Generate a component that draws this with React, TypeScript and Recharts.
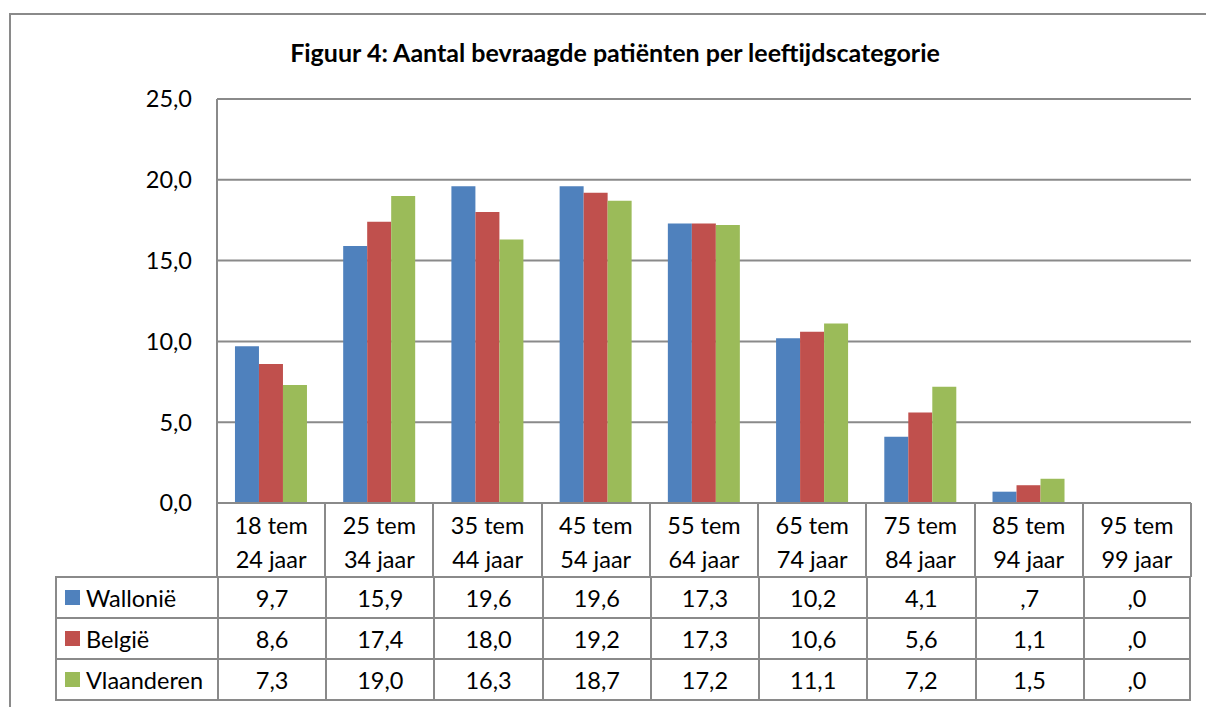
import React from "react";
import { BarChart, Bar, XAxis, YAxis, CartesianGrid } from "recharts";

const categories: string[][] = [
  ["18 tem", "24 jaar"],
  ["25 tem", "34 jaar"],
  ["35 tem", "44 jaar"],
  ["45 tem", "54 jaar"],
  ["55 tem", "64 jaar"],
  ["65 tem", "74 jaar"],
  ["75 tem", "84 jaar"],
  ["85 tem", "94 jaar"],
  ["95 tem", "99 jaar"],
];

const wallonie = [9.7, 15.9, 19.6, 19.6, 17.3, 10.2, 4.1, 0.7, 0.0];
const belgie = [8.6, 17.4, 18.0, 19.2, 17.3, 10.6, 5.6, 1.1, 0.0];
const vlaanderen = [7.3, 19.0, 16.3, 18.7, 17.2, 11.1, 7.2, 1.5, 0.0];

const yTicks = [0, 5, 10, 15, 20, 25];

const series = [
  { key: "wallonie", name: "Wallonië", color: "#4F81BD", values: wallonie },
  { key: "belgie", name: "België", color: "#C0504D", values: belgie },
  { key: "vlaanderen", name: "Vlaanderen", color: "#9BBB59", values: vlaanderen },
];

const data = categories.map((c, i) => ({
  cat: c.join(" "),
  wallonie: wallonie[i],
  belgie: belgie[i],
  vlaanderen: vlaanderen[i],
}));

const FONT = "Lato, 'Open Sans', sans-serif";
const FS = 23.5;
const GRID = "#8a8a8a";

const fmtAxis = (v: number) => v.toFixed(1).replace(".", ",");
const fmtCell = (v: number) => {
  const s = v.toFixed(1).replace(".", ",");
  return s.startsWith("0,") ? s.slice(1) : s;
};

// layout
const PLOT_LEFT = 217;
const PLOT_RIGHT = 1191;
const PLOT_TOP = 99;
const PLOT_BOTTOM = 503;
const TABLE_LEFT = 55;
const HEAD_H = 74;
const ROW_H = 41;

const CatTick = (props: any) => {
  const { x, y, payload, index } = props;
  const lines = categories[index] || [payload.value];
  return (
    <g>
      {lines.map((l: string, i: number) => (
        <text
          key={i}
          x={x}
          y={y + 29 + i * 34}
          textAnchor="middle"
          fontSize={FS}
          fontFamily={FONT}
          fill="#000"
        >
          {l}
        </text>
      ))}
    </g>
  );
};

const App: React.FC = () => {
  const colW = (PLOT_RIGHT - PLOT_LEFT) / categories.length;
  const border = `2px solid ${GRID}`;
  return (
    <div
      style={{
        position: "absolute",
        left: 0,
        top: 0,
        width: 1206,
        height: 707,
        overflow: "hidden",
        background: "#fff",
        fontFamily: FONT,
      }}
    >
      <div
        style={{
          position: "absolute",
          left: 9,
          top: 13,
          width: 1230,
          height: 760,
          border: `2px solid ${GRID}`,
        }}
      />
      <div
        style={{
          position: "absolute",
          left: 0,
          width: 1230,
          top: 37,
          textAlign: "center",
          fontSize: 25,
          fontWeight: 700,
          color: "#000",
        }}
      >
        Figuur 4: Aantal bevraagde patiënten per leeftijdscategorie
      </div>
      <BarChart
        width={1206}
        height={707}
        data={data}
        margin={{ top: PLOT_TOP, right: 1206 - PLOT_RIGHT, bottom: 707 - PLOT_BOTTOM - HEAD_H, left: 0 }}
        barCategoryGap="16.6%"
        barGap={0}
        style={{ position: "absolute", left: 0, top: 0 }}
      >
        <CartesianGrid vertical={false} stroke={GRID} strokeWidth={2} />
        <XAxis
          dataKey="cat"
          interval={0}
          tickLine={false}
          tickSize={0}
          axisLine={{ stroke: GRID, strokeWidth: 2 }}
          tick={<CatTick />}
          height={HEAD_H}
        />
        <YAxis
          width={PLOT_LEFT}
          domain={[0, 25]}
          ticks={yTicks}
          tickFormatter={fmtAxis}
          tickLine={false}
          tickSize={0}
          tickMargin={25}
          axisLine={{ stroke: GRID, strokeWidth: 2 }}
          tick={{ fontSize: FS, fontFamily: FONT, fill: "#000" }}
        />
        {series.map((s) => (
          <Bar key={s.key} dataKey={s.key} name={s.name} fill={s.color} isAnimationActive={false} />
        ))}
      </BarChart>
      {/* data table under the plot */}
      <div style={{ position: "absolute", left: 0, top: 0 }}>
        {categories.map((_, i) => (
          <div
            key={"hv" + i}
            style={{
              position: "absolute",
              left: PLOT_LEFT + colW * (i + 1) - 1,
              top: PLOT_BOTTOM,
              width: 0,
              height: HEAD_H,
              borderLeft: border,
            }}
          />
        ))}
        <div
          style={{
            position: "absolute",
            left: PLOT_LEFT - 1,
            top: PLOT_BOTTOM,
            width: 0,
            height: HEAD_H,
            borderLeft: border,
          }}
        />
        {series.map((s, r) => (
          <div
            key={s.key}
            style={{
              position: "absolute",
              left: TABLE_LEFT,
              top: PLOT_BOTTOM + HEAD_H + r * ROW_H - 1,
              height: ROW_H,
              display: "flex",
            }}
          >
            <div
              style={{
                width: PLOT_LEFT - TABLE_LEFT,
                height: ROW_H + (r === series.length - 1 ? 2 : 0),
                boxSizing: "border-box",
                border,
                borderRight: "none",
                borderBottom: r === series.length - 1 ? border : "none",
                display: "flex",
                alignItems: "center",
                fontSize: FS,
                color: "#000",
                whiteSpace: "nowrap",
              }}
            >
              <span
                style={{
                  display: "inline-block",
                  flex: "none",
                  width: 15,
                  height: 15,
                  background: s.color,
                  marginLeft: 8,
                  marginRight: 6,
                }}
              />
              {s.name}
            </div>
            {s.values.map((v, i) => (
              <div
                key={i}
                style={{
                  width: colW,
                  height: ROW_H + (r === series.length - 1 ? 2 : 0),
                  boxSizing: "border-box",
                  borderLeft: border,
                  borderTop: border,
                  borderRight: i === s.values.length - 1 ? border : "none",
                  borderBottom: r === series.length - 1 ? border : "none",
                  display: "flex",
                  alignItems: "center",
                  justifyContent: "center",
                  fontSize: FS,
                  color: "#000",
                }}
              >
                {fmtCell(v)}
              </div>
            ))}
          </div>
        ))}
      </div>
    </div>
  );
};

export default App;
